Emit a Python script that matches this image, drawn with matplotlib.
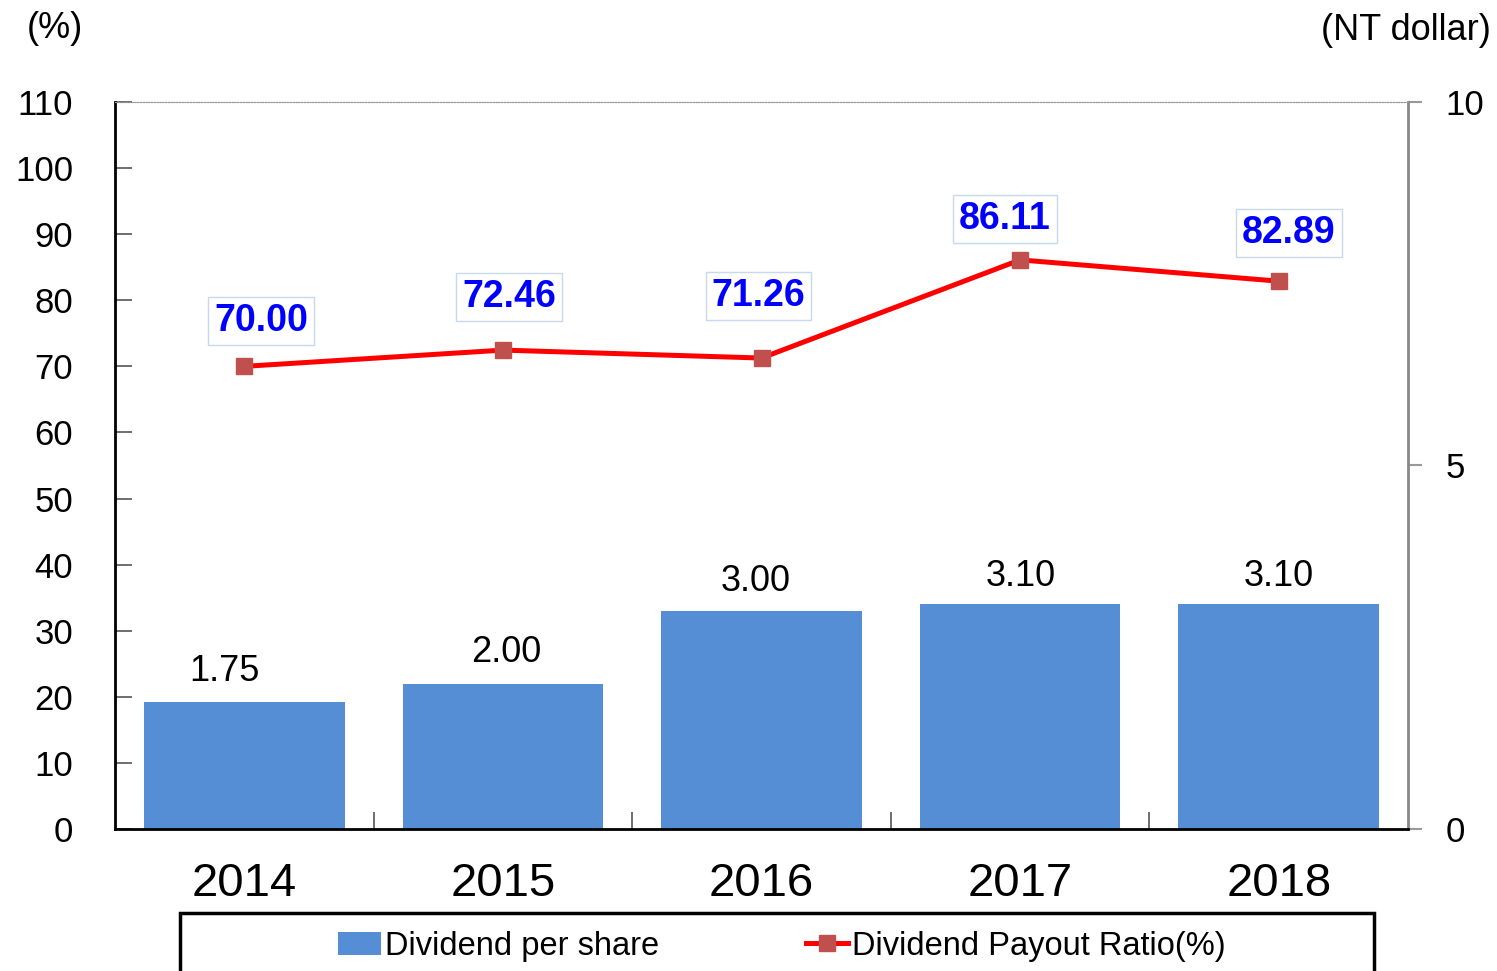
import matplotlib
matplotlib.use("Agg")
import matplotlib.pyplot as plt
from matplotlib.lines import Line2D
from matplotlib.patches import Patch, Rectangle
import numpy as np

plt.rcParams['font.family'] = ['Liberation Sans', 'DejaVu Sans']

years = ['2014', '2015', '2016', '2017', '2018']
dividend = [1.75, 2.00, 3.00, 3.10, 3.10]
payout = [70.00, 72.46, 71.26, 86.11, 82.89]

bar_color = '#558ED5'
line_color = '#FF0000'
marker_color = '#C0504D'

# label nudges in pixels (dx, dy)
payout_off = [(17, 45), (6, 53), (-3, 62), (-15, 41), (10, 48)]
div_off = [(-20, 30), (3, 31), (-6, 29), (1, 27), (0, 27)]

W, H = 1497, 971
fig = plt.figure(figsize=(W / 100, H / 100), dpi=100)
ax = fig.add_axes([115 / W, 1 - 829 / H, (1408 - 115) / W, (829 - 102) / H])
ax2 = ax.twinx()

x = np.arange(len(years))

# bars go on the right (NT dollar) axis, line on the left (%) axis
ax2.bar(x, dividend, width=0.775, color=bar_color, zorder=1)
ax2.set_ylim(0, 10)
ax2.set_yticks([0, 5, 10])
ax2.tick_params(axis='y', direction='out', length=10, width=1.5, color='#999999',
                labelsize=25, pad=17)

ax.set_zorder(ax2.get_zorder() + 1)
ax.patch.set_visible(False)
ax.plot(x, payout, color=line_color, lw=3.6, marker='s', markersize=12,
        markerfacecolor=marker_color, markeredgecolor=marker_color, zorder=3)
ax.set_ylim(0, 110)
ax.set_yticks(range(0, 111, 10))
ax.set_xlim(-0.5, len(years) - 0.5)
ax.tick_params(axis='y', direction='in', length=12, width=1.2, color='#555555',
               labelsize=25, pad=30)
ax.set_xticks(x)
ax.set_xticklabels(years)
ax.tick_params(axis='x', which='major', length=0, labelsize=34, pad=24)
ax.set_xticks(x[:-1] + 0.5, minor=True)
ax.tick_params(axis='x', which='minor', direction='in', length=12, width=1.2,
               color='#555555')

for a in (ax, ax2):
    a.spines['top'].set_linestyle((0, (1, 1.5)))
    a.spines['top'].set_color('#999999')
    a.spines['top'].set_linewidth(0.8)
ax.spines['left'].set_linewidth(2)
ax.spines['left'].set_color('black')
ax.spines['bottom'].set_linewidth(2)
ax.spines['bottom'].set_color('black')
ax.spines['right'].set_visible(False)
ax2.spines['right'].set_color('#888888')
ax2.spines['right'].set_linewidth(2)
ax2.spines['left'].set_visible(False)
ax2.spines['bottom'].set_visible(False)

for i, v in enumerate(payout):
    dx, dy = payout_off[i]
    ax.annotate(f'{v:.2f}', (x[i], v), xytext=(dx * 0.72, dy * 0.72),
                textcoords='offset points', ha='center', va='center',
                fontsize=27, fontweight='bold', color='#0000FF', zorder=4,
                bbox=dict(boxstyle='square,pad=0.16', fc='white', ec='#C6D9F1', lw=1))

for i, v in enumerate(dividend):
    dx, dy = div_off[i]
    ax2.annotate(f'{v:.2f}', (x[i], v), xytext=(dx * 0.72, dy * 0.72),
                 textcoords='offset points', ha='center', va='center',
                 fontsize=26, color='black')

fig.text(55 / W, 1 - 28 / H, '(%)', fontsize=26, ha='center', va='center')
fig.text(1491 / W, 1 - 30 / H, '(NT dollar)', fontsize=26, ha='right', va='center')

# legend in a boxed strip under the axis
fig.patches.append(Rectangle((180 / W, -0.05), (1374 - 180) / W, 1 - 913 / H + 0.05,
                             transform=fig.transFigure, fill=False, ec='black', lw=2.5))
handles = [Patch(facecolor=bar_color),
           Line2D([0], [0], color=line_color, lw=3.6, marker='s', markersize=12,
                  markerfacecolor=marker_color, markeredgecolor=marker_color)]
fig.legend(handles, ['Dividend per share', 'Dividend Payout Ratio(%)'],
           loc='center', bbox_to_anchor=(782 / W, 1 - 946 / H), ncol=2,
           frameon=False, fontsize=23.5, handlelength=1.3, handletextpad=0.12,
           columnspacing=4.5)

fig.savefig('out.png', dpi=100)
